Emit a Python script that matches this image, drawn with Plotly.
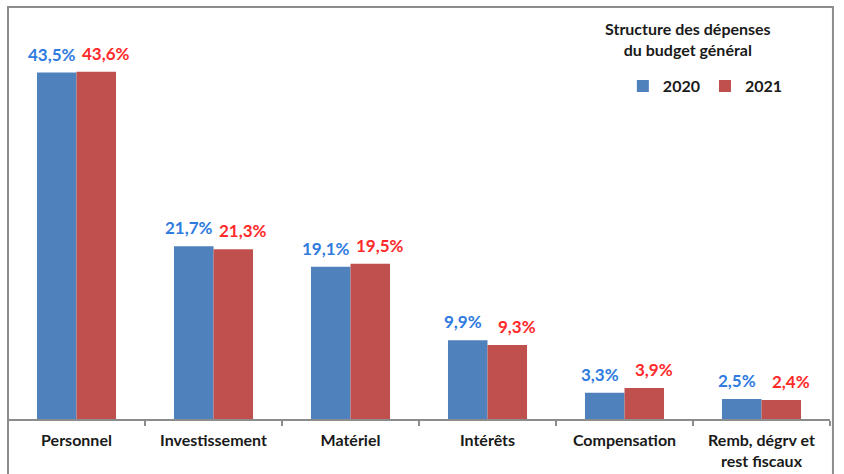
import plotly.graph_objects as go

categories = ["Personnel", "Investissement", "Matériel", "Intérêts", "Compensation", "Remb, dégrv et<br>rest fiscaux"]
values_2020 = [43.5, 21.7, 19.1, 9.9, 3.3, 2.5]
values_2021 = [43.6, 21.3, 19.5, 9.3, 3.9, 2.4]
series_names = ["2020", "2021"]

FONT = "Lato, 'Open Sans', sans-serif"
BAR_COLORS = ["#4F81BD", "#C0504D"]
LABEL_COLORS = ["#2F7BE0", "#FF2A2A"]

fig = go.Figure()
for name, vals, col in zip(series_names, [values_2020, values_2021], BAR_COLORS):
    fig.add_trace(go.Bar(x=categories, y=vals, name=name, marker=dict(color=col, line=dict(width=0))))

annotations = []
for vals, col, shift in zip([values_2020, values_2021], LABEL_COLORS, [-25, 29]):
    for c, v in zip(categories, vals):
        annotations.append(dict(
            x=c, y=v, xref="x", yref="y", text=f"{v:.1f}".replace(".", ",") + "%",
            showarrow=False, xshift=shift, yshift=6, yanchor="bottom",
            font=dict(family=FONT, size=17, color=col, weight="bold")))

annotations.append(dict(
    x=0.827, y=0.925, xref="paper", yref="paper", showarrow=False,
    text="Structure des dépenses<br>du budget général",
    font=dict(family=FONT, size=16, color="#1a1a1a", weight="bold"), align="center",
    xanchor="center", yanchor="middle"))

fig.update_layout(
    width=844, height=474,
    margin=dict(l=8, r=14, t=8, b=55, autoexpand=False),
    paper_bgcolor="white", plot_bgcolor="white",
    barmode="group", bargap=0.423, bargroupgap=0,
    showlegend=True,
    legend=dict(orientation="h", x=0.748, y=0.81, xanchor="left", yanchor="middle",
                font=dict(family=FONT, size=16, color="#1a1a1a", weight="bold"),
                itemwidth=30, bgcolor="rgba(0,0,0,0)", traceorder="normal"),
    annotations=annotations,
    xaxis=dict(showline=True, linecolor="#8c8c8c", linewidth=1.5, ticks="outside",
               tickson="boundaries", ticklen=5, tickcolor="#8c8c8c", tickwidth=1.5,
               showgrid=False, zeroline=False, ticklabelstandoff=6, automargin=False,
               tickfont=dict(family=FONT, size=16, color="#1a1a1a", weight="bold")),
    yaxis=dict(range=[0, 51.6], showticklabels=False, showgrid=False, zeroline=False,
               showline=False, ticks="", automargin=False),
    shapes=[dict(type="rect", xref="paper", yref="paper", x0=0, x1=1.0036, y0=-0.3, y1=1.0025,
                 line=dict(color="#8c8c8c", width=2), fillcolor="rgba(0,0,0,0)", layer="above")],
)

fig.write_html("out.html")
